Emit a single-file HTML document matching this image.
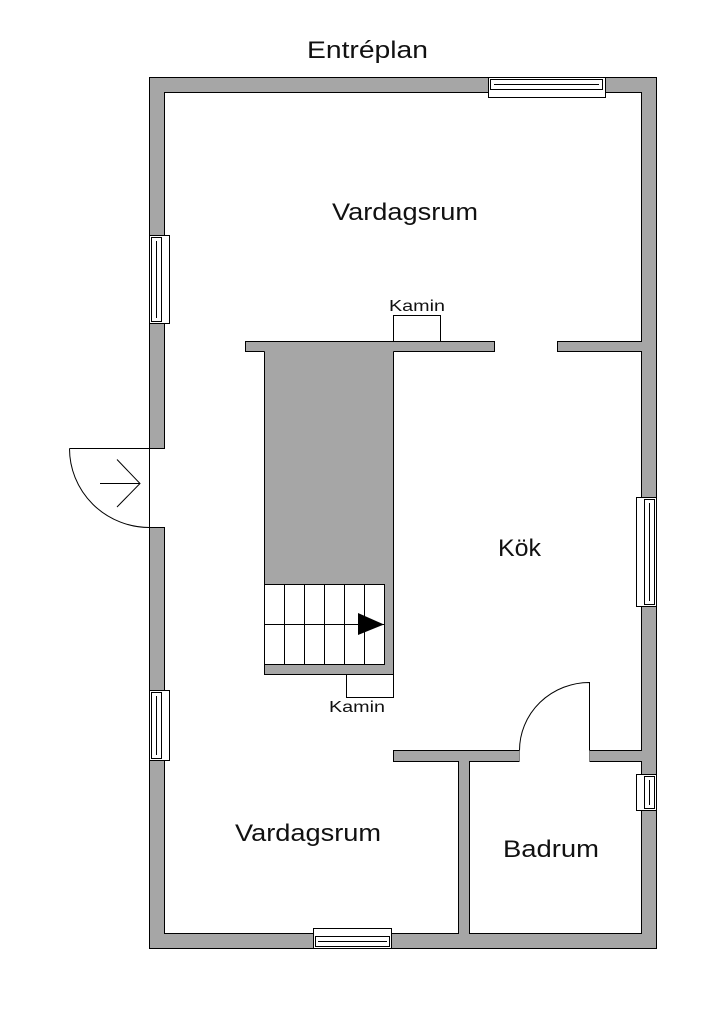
<!DOCTYPE html>
<html><head><meta charset="utf-8"><style>
html,body{margin:0;padding:0;background:#fff;}
svg{display:block;}
text{font-family:"Liberation Sans",sans-serif;fill:#111;}
</style></head><body>
<svg width="724" height="1024" viewBox="0 0 724 1024" xmlns="http://www.w3.org/2000/svg">
<g stroke="#000" stroke-width="1" fill="#a6a6a6">
<path fill-rule="evenodd" d="M149.5 77.5 H656.5 V948.5 H149.5 Z M164.5 92.5 V933.5 H641.5 V92.5 Z"/>
<rect x="245.5" y="341.5" width="249" height="10"/>
<rect x="557.5" y="341.5" width="84" height="10"/>
<rect x="264.5" y="351" width="129" height="323.5" stroke="none"/>
<path d="M264.5 351.5 V674.5 H393.5 V351.5" fill="none"/>
<rect x="393.5" y="750.5" width="126" height="11"/>
<rect x="589.5" y="750.5" width="52" height="11"/>
<rect x="458.5" y="761.5" width="11" height="172"/>
</g>
<g fill="#a6a6a6"><rect x="459" y="758" width="10" height="6"/><rect x="640" y="342" width="3" height="9"/><rect x="640" y="751" width="3" height="10"/><rect x="459" y="932" width="10" height="3"/></g>
<g stroke="#000" stroke-width="1" fill="#fff">
<rect x="148" y="449" width="17" height="78" stroke="none"/>
<line x1="149.5" y1="448.5" x2="149.5" y2="527.5"/>
<line x1="69.5" y1="448.5" x2="164.5" y2="448.5"/>
<line x1="149.5" y1="527.5" x2="164.5" y2="527.5"/>
<path d="M69.5 448.5 A80 79 0 0 0 149.5 527.5" fill="none"/>
<path d="M100 483.5 H140 M117 459.5 L140 483.5 L117 507" fill="none"/>
<rect x="519.5" y="748" width="70" height="15" stroke="none"/>
<path d="M519.5 750.5 A70 68 0 0 1 589.5 682.5 V750.5" fill="none"/>
<rect x="264.5" y="584.5" width="120" height="80"/>
<path d="M284.5 584.5V664.5M304.5 584.5V664.5M324.5 584.5V664.5M344.5 584.5V664.5M364.5 584.5V664.5M264.5 624.5H384.5" fill="none"/>
<rect x="393.5" y="315.5" width="47" height="26"/>
<rect x="346.5" y="674.5" width="47" height="23"/>
<rect x="488.5" y="77.5" width="117" height="20"/>
<rect x="490.5" y="79.5" width="112" height="10"/>
<line x1="494" y1="84.5" x2="599" y2="84.5"/>
<rect x="313.5" y="928.5" width="78" height="20"/>
<rect x="315.5" y="936.5" width="74" height="10"/>
<line x1="318" y1="941.5" x2="387" y2="941.5"/>
<rect x="149.5" y="235.5" width="20" height="88"/>
<rect x="151.5" y="237.5" width="10" height="84"/>
<line x1="156.5" y1="241" x2="156.5" y2="318"/>
<rect x="149.5" y="690.5" width="20" height="70"/>
<rect x="151.5" y="692.5" width="10" height="66"/>
<line x1="156.5" y1="696" x2="156.5" y2="755"/>
<rect x="636.5" y="497.5" width="20" height="109"/>
<rect x="644.5" y="499.5" width="10" height="105"/>
<line x1="649.5" y1="503" x2="649.5" y2="601"/>
<rect x="636.5" y="774.5" width="20" height="36"/>
<rect x="644.5" y="776.5" width="10" height="32"/>
<line x1="649.5" y1="780" x2="649.5" y2="805"/>
</g>
<polygon points="358,613 384,624.5 358,635" fill="#000"/>
<g>
<text x="307" y="58" font-size="24" textLength="121" lengthAdjust="spacingAndGlyphs">Entréplan</text>
<text x="332" y="220" font-size="24" textLength="146" lengthAdjust="spacingAndGlyphs">Vardagsrum</text>
<text x="498" y="556" font-size="24" textLength="43" lengthAdjust="spacingAndGlyphs">Kök</text>
<text x="235" y="841" font-size="24" textLength="146" lengthAdjust="spacingAndGlyphs">Vardagsrum</text>
<text x="503" y="857" font-size="24" textLength="96" lengthAdjust="spacingAndGlyphs">Badrum</text>
<text x="389" y="311" font-size="16" textLength="56" lengthAdjust="spacingAndGlyphs">Kamin</text>
<text x="329" y="712" font-size="16" textLength="56" lengthAdjust="spacingAndGlyphs">Kamin</text>
</g>
</svg>
</body></html>
